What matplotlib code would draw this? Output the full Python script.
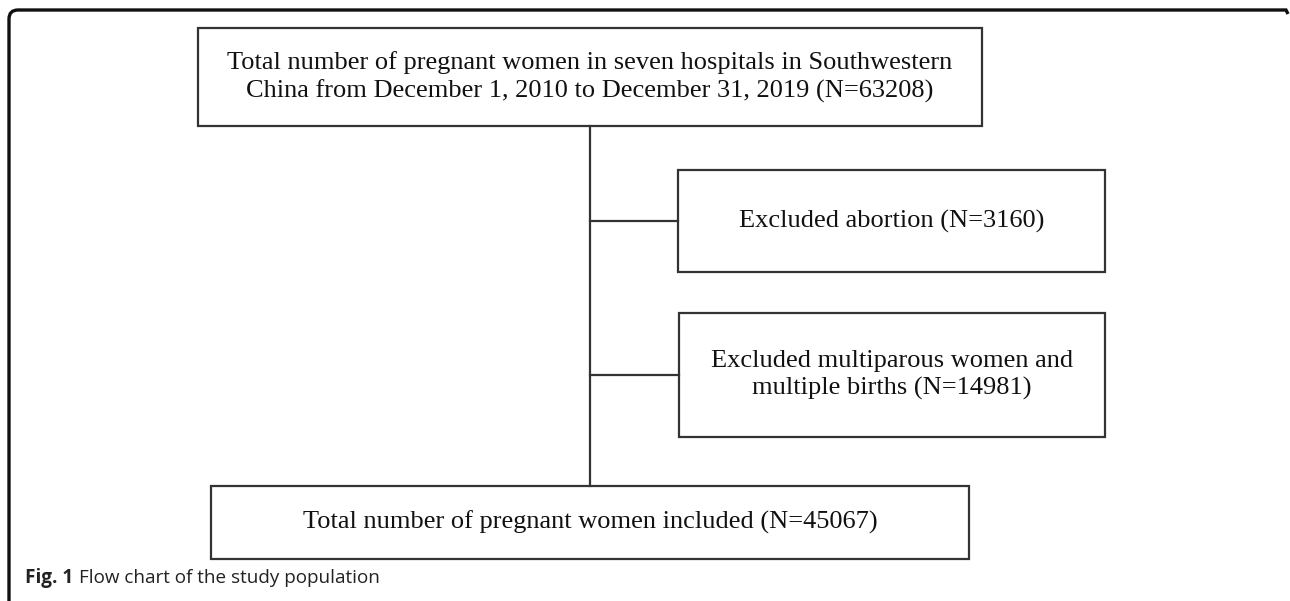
#!/usr/bin/env python3
"""Flow chart of the study population."""

import matplotlib
matplotlib.use('Agg')
import matplotlib.pyplot as plt
from matplotlib.patches import Rectangle, PathPatch
from matplotlib.path import Path

# Data
main_labels = [
    'Total number of pregnant women in seven hospitals in Southwestern\n'
    'China from December 1, 2010 to December 31, 2019 (N={})',
    'Total number of pregnant women included (N={})',
]
main_counts = [63208, 45067]
excluded_labels = [
    'Excluded abortion (N={})',
    'Excluded multiparous women and\nmultiple births (N={})',
]
excluded_counts = [3160, 14981]
caption_bold = 'Fig. 1'
caption_text = 'Flow chart of the study population'

# Layout (pixels, y down)
W, H = 1290, 601
main_boxes = [(198, 28, 982, 126), (211, 486, 969, 559)]
excl_boxes = [(678, 170, 1105, 272), (679, 313, 1105, 437)]
spine_x = 590

fig = plt.figure(figsize=(W / 100, H / 100), dpi=100)
ax = fig.add_axes([0, 0, 1, 1])
ax.set_xlim(0, W)
ax.set_ylim(H, 0)
ax.axis('off')

box_color = '#333333'
serif = 'Liberation Serif'

def draw_box(b, text):
    x0, y0, x1, y1 = b
    ax.add_patch(Rectangle((x0, y0), x1 - x0, y1 - y0, fill=False,
                           edgecolor=box_color, linewidth=1.6))
    ax.text((x0 + x1) / 2, (y0 + y1) / 2, text, ha='center', va='center',
            family=serif, fontsize=19, linespacing=1.3, color='#111111')

for b, lab, n in zip(main_boxes, main_labels, main_counts):
    draw_box(b, lab.format(n))
for b, lab, n in zip(excl_boxes, excluded_labels, excluded_counts):
    draw_box(b, lab.format(n))

# Connectors
ax.plot([spine_x, spine_x], [main_boxes[0][3], main_boxes[1][1]],
        color=box_color, linewidth=1.6)
for b in excl_boxes:
    yc = (b[1] + b[3]) / 2
    ax.plot([spine_x, b[0]], [yc, yc], color=box_color, linewidth=1.6)

# Outer frame (top and left edges, rounded corner)
r = 9
verts = [(1288, 14), (1286, 10), (9 + r, 10), (9, 10), (9, 10 + r), (9, H + 5)]
codes = [Path.MOVETO, Path.LINETO, Path.LINETO, Path.CURVE3, Path.CURVE3, Path.LINETO]
ax.add_patch(PathPatch(Path(verts, codes), fill=False, edgecolor='#111111',
                       linewidth=2.4, capstyle='butt'))

# Caption
t1 = ax.text(25, 578, caption_bold, ha='left', va='center', family='Open Sans',
             fontsize=13.6, fontweight='bold', color='#222222')
fig.canvas.draw()
bb = t1.get_window_extent()
x_end = ax.transData.inverted().transform((bb.x1, bb.y0))[0]
ax.text(x_end + 6, 578, caption_text, ha='left', va='center', family='Open Sans',
        fontsize=13.6, color='#222222')

plt.savefig('out.png', dpi=100)
